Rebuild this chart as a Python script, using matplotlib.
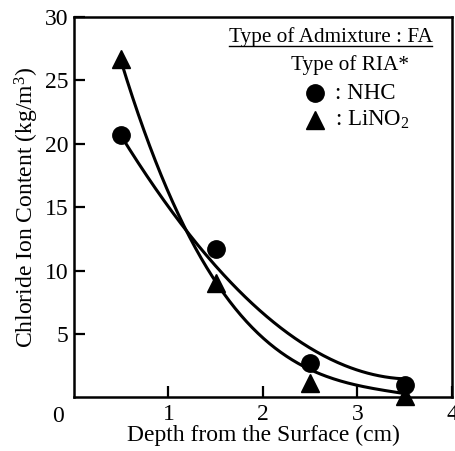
import numpy as np
import matplotlib
matplotlib.use("Agg")
import matplotlib.pyplot as plt
from matplotlib.lines import Line2D

plt.rcParams['font.family'] = ['Liberation Serif', 'DejaVu Serif']
plt.rcParams['mathtext.fontset'] = 'custom'
plt.rcParams['mathtext.rm'] = 'Liberation Serif'
plt.rcParams['mathtext.it'] = 'Liberation Serif:italic'

# Data points
depth = [0.5, 1.5, 2.5, 3.5]
nhc = [20.7, 11.7, 2.7, 1.0]
lino2 = [26.7, 9.0, 1.1, 0.1]

# Trend curves
curve_x = [0.5, 1.0, 1.5, 2.0, 2.5, 3.0, 3.5]
curve_nhc = [20.6, 15.0, 10.5, 6.5, 3.8, 2.3, 1.4]
curve_lino2 = [26.5, 16.1, 9.1, 4.8, 2.1, 0.95, 0.3]

xticks = [1, 2, 3, 4]
yticks = [5, 10, 15, 20, 25, 30]

fig = plt.figure(figsize=(4.55, 4.51), dpi=100)
ax = fig.add_axes([0.1626, 0.119, 0.8308, 0.8433])

xs = np.linspace(0.5, 3.5, 200)
for cy in (curve_nhc, curve_lino2):
    p = np.polyfit(curve_x, cy, 3)
    ax.plot(xs, np.polyval(p, xs), color='black', lw=2.2, zorder=2)

ax.plot(depth, nhc, 'o', color='black', ms=12.5, zorder=3, clip_on=False)
ax.plot(depth, lino2, '^', color='black', ms=12.5, zorder=3, clip_on=False)

ax.set_xlim(0, 4)
ax.set_ylim(0, 30)
ax.set_xticks(xticks)
ax.set_yticks(yticks)
ax.set_xticklabels([str(t) for t in xticks])
ax.set_yticklabels([str(t) for t in yticks])
ax.tick_params(direction='in', length=8, width=1.6, labelsize=17)
ax.tick_params(axis='x', pad=5)
ax.tick_params(axis='y', pad=4)
for s in ax.spines.values():
    s.set_linewidth(1.8)

ax.text(-0.042, -0.022, '0', transform=ax.transAxes, ha='center', va='top', fontsize=17)

ax.set_xlabel('Depth from the Surface (cm)', fontsize=17, labelpad=0)
ax.set_ylabel('Chloride Ion Content (kg/m$^3$)', fontsize=17, labelpad=3)

# legend-like annotation
ax.text(0.679, 0.947, 'Type of Admixture : FA', transform=ax.transAxes,
        ha='center', va='center', fontsize=15.3)
ax.add_line(Line2D([0.41, 0.947], [0.923, 0.923], transform=ax.transAxes,
                   color='black', lw=1.0))
ax.text(0.730, 0.874, 'Type of RIA*', transform=ax.transAxes,
        ha='center', va='center', fontsize=15.3)
ax.plot([0.638], [0.799], 'o', color='black', ms=12.5, transform=ax.transAxes)
ax.text(0.690, 0.799, ': NHC', transform=ax.transAxes, ha='left', va='center', fontsize=16.5)
ax.plot([0.638], [0.729], '^', color='black', ms=12.5, transform=ax.transAxes)
ax.text(0.690, 0.729, ': LiNO$_2$', transform=ax.transAxes, ha='left', va='center', fontsize=16.5)

fig.savefig('out.png', dpi=100)
